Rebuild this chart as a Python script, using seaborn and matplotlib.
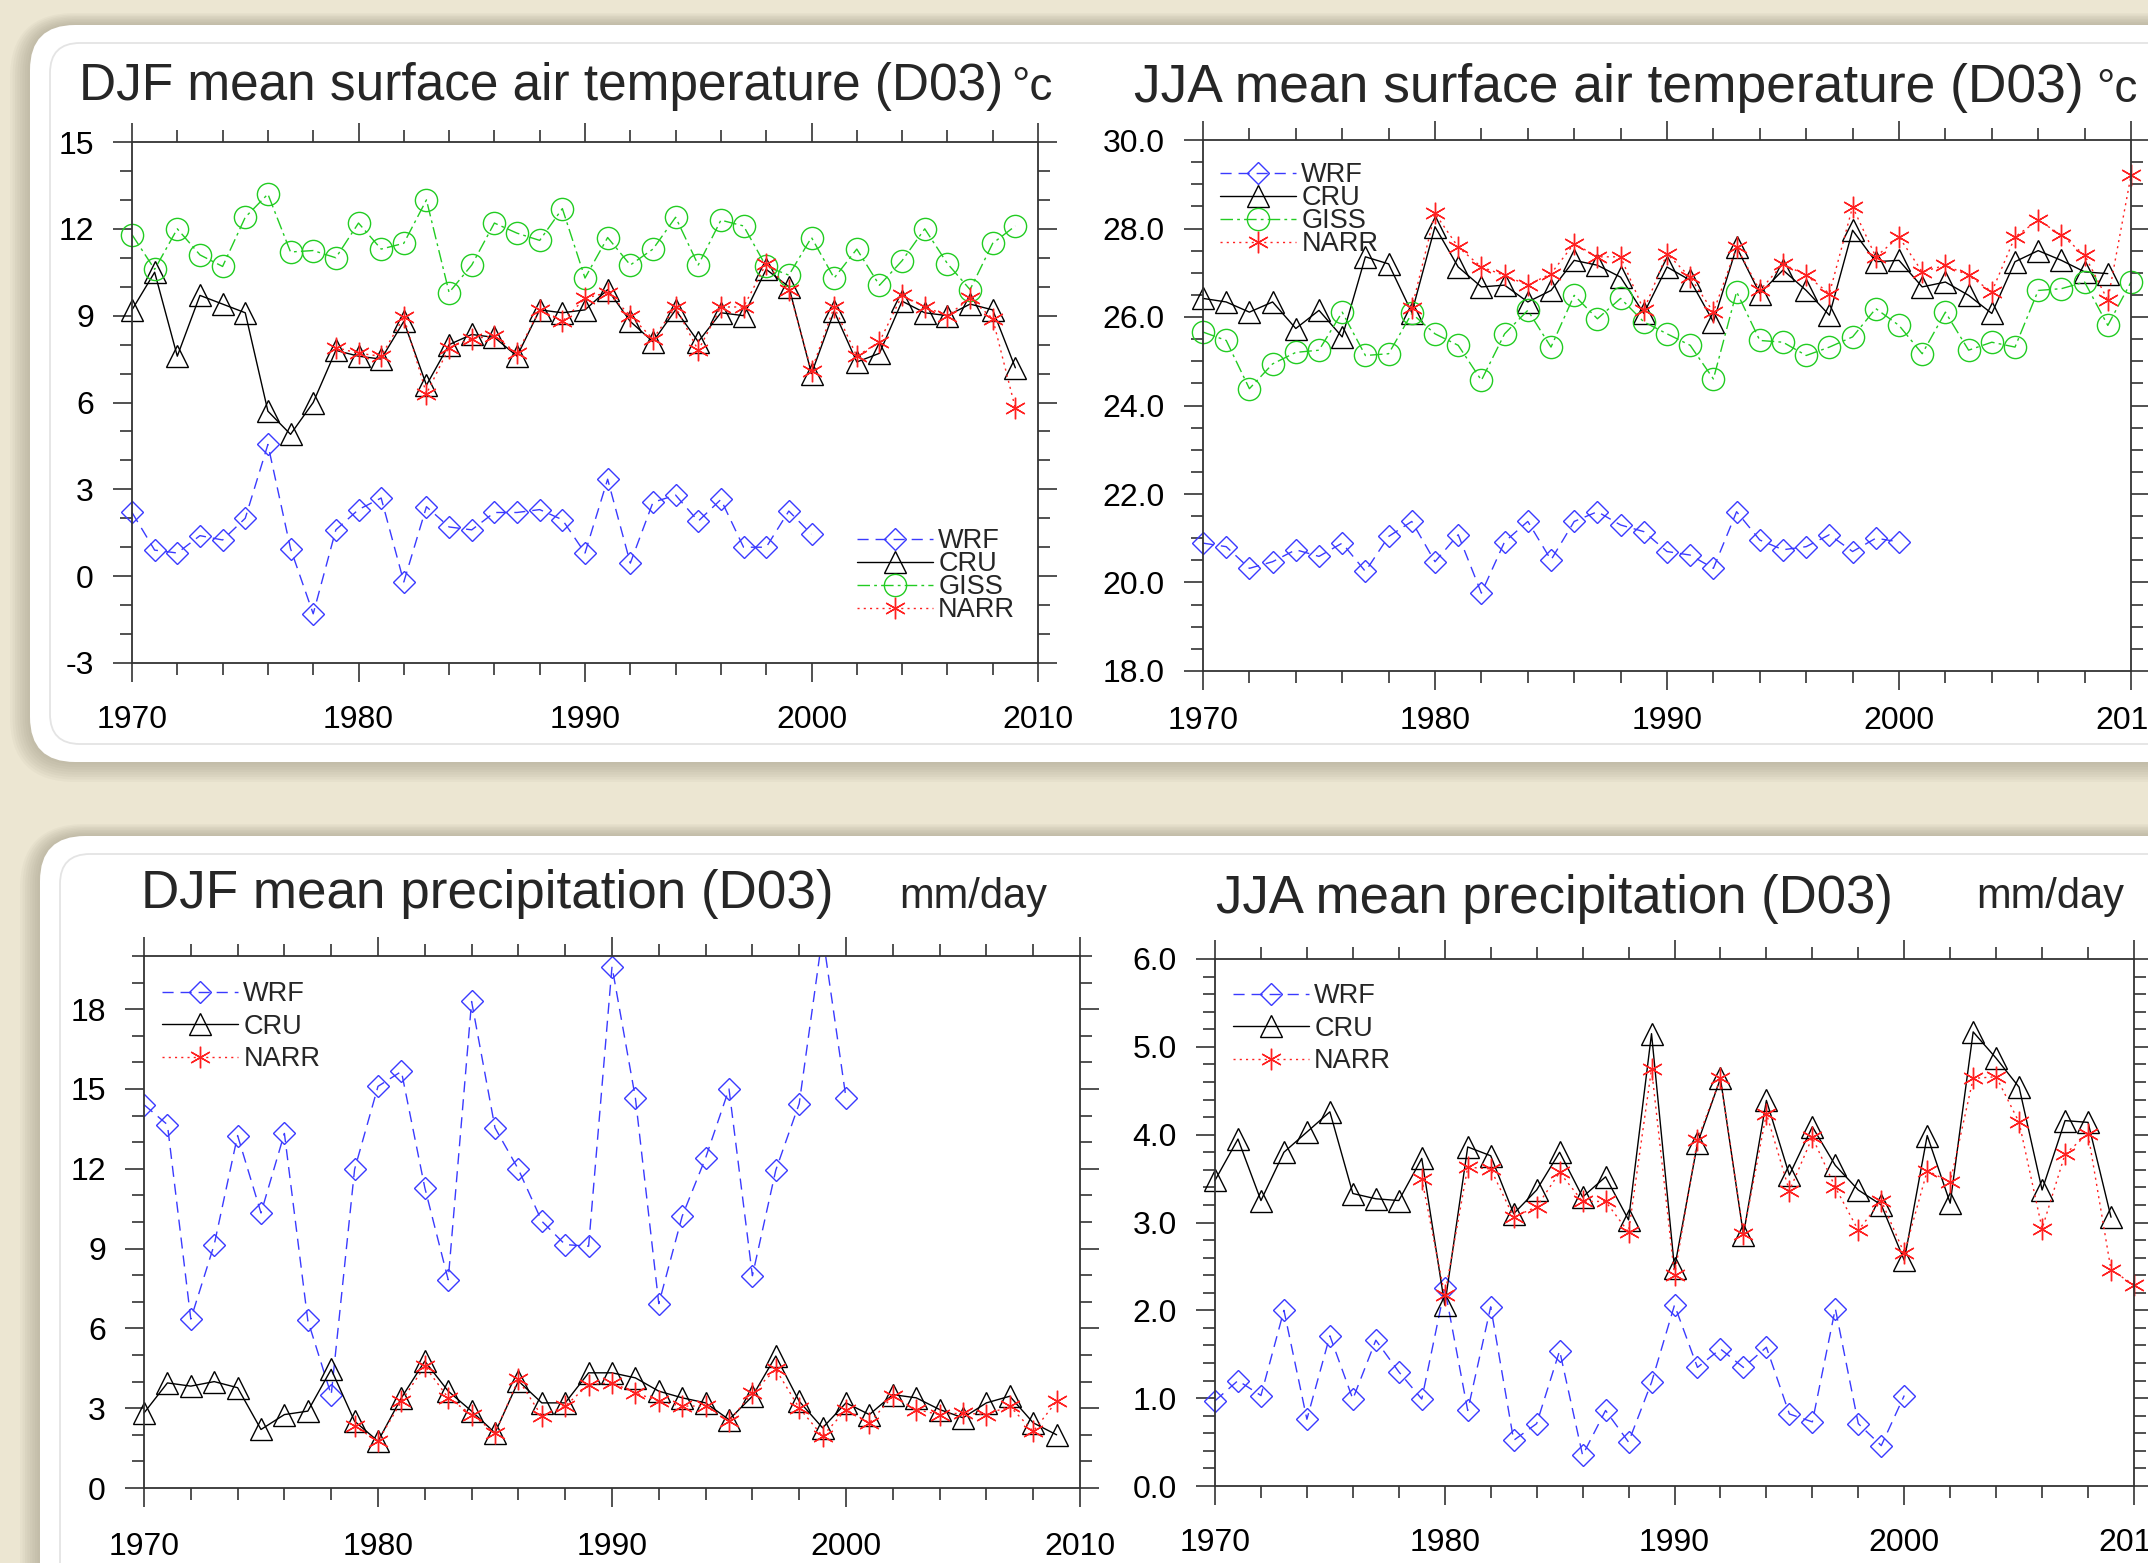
import numpy as np
import seaborn as sns
import matplotlib.pyplot as plt
from matplotlib.patches import FancyBboxPatch
from matplotlib.ticker import MultipleLocator, FormatStrFormatter

sns.set_theme(style='white')
plt.rcParams['font.family'] = ['Liberation Sans', 'DejaVu Sans']
plt.rcParams['axes.unicode_minus'] = False

# ---- data ----
# DJF mean surface air temperature
djf_t_wrf = [2.2, 0.9, 0.8, 1.4, 1.25, 2.0, 4.55, 0.95, -1.3, 1.6,
             2.3, 2.7, -0.2, 2.4, 1.7, 1.6, 2.2, 2.2, 2.3, 1.95,
             0.8, 3.35, 0.45, 2.55, 2.8, 1.9, 2.65, 1.0, 1.0, 2.25,
             1.45]
djf_t_cru = [9.2, 10.5, 7.6, 9.7, 9.4, 9.1, 5.7, 4.9, 6.0, 7.8,
             7.6, 7.5, 8.8, 6.6, 8.0, 8.35, 8.25, 7.6, 9.2, 9.1,
             9.2, 9.9, 8.8, 8.1, 9.2, 8.1, 9.1, 9.0, 10.6, 10.0,
             7.0, 9.15, 7.4, 7.7, 9.5, 9.1, 9.0, 9.4, 9.2, 7.2]
djf_t_giss = [11.8, 10.6, 12.0, 11.1, 10.7, 12.4, 13.2, 11.2, 11.25, 11.0,
              12.2, 11.3, 11.5, 13.0, 9.8, 10.75, 12.2, 11.85, 11.6, 12.7,
              10.3, 11.7, 10.75, 11.3, 12.4, 10.75, 12.3, 12.1, 10.7, 10.4,
              11.7, 10.3, 11.3, 10.05, 10.9, 12.0, 10.8, 9.9, 11.5, 12.1]
djf_t_narr = [7.9,
              7.7, 7.6, 8.95, 6.3, 7.9, 8.2, 8.3, 7.7, 9.2, 8.8,
              9.6, 9.8, 9.0, 8.2, 9.3, 7.8, 9.3, 9.3, 10.8, 9.9,
              7.1, 9.3, 7.6, 8.1, 9.7, 9.3, 9.0, 9.6, 8.9, 5.8]

# JJA mean surface air temperature
jja_t_wrf = [20.89, 20.81, 20.32, 20.47, 20.74, 20.59, 20.89, 20.25, 21.04, 21.38,
             20.47, 21.08, 19.76, 20.92, 21.38, 20.51, 21.38, 21.6, 21.3, 21.15,
             20.7, 20.62, 20.32, 21.6, 20.96, 20.74, 20.81, 21.08, 20.7, 21.0,
             20.92]
jja_t_cru = [26.42, 26.34, 26.11, 26.34, 25.74, 26.15, 25.55, 27.36, 27.2, 26.1,
             28.04, 27.13, 26.68, 26.72, 26.34, 26.6, 27.28, 27.17, 26.9, 26.08,
             27.13, 26.83, 25.89, 27.58, 26.53, 27.06, 26.6, 26.04, 27.96, 27.25,
             27.28, 26.68, 26.79, 26.49, 26.08, 27.25, 27.5, 27.28, 27.02, 26.98]
jja_t_giss = [25.66, 25.47, 24.38, 24.94, 25.2, 25.25, 26.11, 25.13, 25.17, 26.08,
              25.62, 25.36, 24.57, 25.62, 26.15, 25.32, 26.49, 25.96, 26.42, 25.89,
              25.62, 25.36, 24.6, 26.57, 25.47, 25.43, 25.13, 25.32, 25.55, 26.19,
              25.81, 25.17, 26.11, 25.25, 25.43, 25.32, 26.6, 26.64, 26.79, 25.81,
              26.79]
jja_t_narr = [26.2,
              28.34, 27.58, 27.13, 26.94, 26.72, 26.98, 27.66, 27.36, 27.36, 26.15,
              27.43, 26.9, 26.11, 27.58, 26.6, 27.2, 26.94, 26.53, 28.49, 27.36,
              27.81, 27.02, 27.17, 26.94, 26.57, 27.81, 28.19, 27.85, 27.4, 26.38,
              29.2]

# DJF mean precipitation
djf_p_wrf = [14.41, 13.66, 6.35, 9.15, 13.25, 10.34, 13.33, 6.3, 3.5, 11.98,
             15.1, 15.66, 11.29, 7.83, 18.29, 13.54, 11.98, 10.03, 9.15, 9.09,
             19.6, 14.66, 6.93, 10.22, 12.41, 15.0, 7.98, 11.95, 14.45, 20.8,
             14.66]
djf_p_cru = [2.82, 3.95, 3.83, 4.0, 3.77, 2.2, 2.76, 2.89, 4.46, 2.51,
             1.76, 3.39, 4.77, 3.64, 2.89, 2.07, 4.02, 3.2, 3.2, 4.33,
             4.33, 4.14, 3.64, 3.39, 3.2, 2.57, 3.45, 4.96, 3.26, 2.26,
             3.2, 2.76, 3.51, 3.39, 2.95, 2.64, 3.2, 3.45, 2.45, 2.0]
djf_p_narr = [2.32,
              1.76, 3.26, 4.58, 3.39, 2.76, 2.07, 4.08, 2.7, 3.08, 3.89,
              3.95, 3.58, 3.26, 3.08, 3.08, 2.51, 3.58, 4.46, 3.01, 1.95,
              2.95, 2.45, 3.45, 2.95, 2.76, 2.82, 2.76, 3.08, 2.13, 3.26]

# JJA mean precipitation
jja_p_wrf = [0.97, 1.2, 1.03, 2.0, 0.76, 1.71, 0.99, 1.66, 1.3, 0.99,
             2.25, 0.86, 2.04, 0.52, 0.71, 1.54, 0.35, 0.86, 0.5, 1.18,
             2.06, 1.35, 1.56, 1.35, 1.58, 0.82, 0.73, 2.02, 0.71, 0.46,
             1.03]
jja_p_cru = [3.48, 3.95, 3.25, 3.8, 4.03, 4.26, 3.33, 3.27, 3.25, 3.73,
             2.06, 3.86, 3.76, 3.1, 3.37, 3.8, 3.29, 3.52, 3.03, 5.15,
             2.48, 3.9, 4.64, 2.86, 4.39, 3.54, 4.09, 3.65, 3.37, 3.2,
             2.57, 3.99, 3.22, 5.17, 4.87, 4.54, 3.37, 4.16, 4.14, 3.06]
jja_p_narr = [3.5,
              2.17, 3.63, 3.61, 3.06, 3.18, 3.57, 3.24, 3.24, 2.89, 4.75,
              2.4, 3.94, 4.64, 2.87, 4.24, 3.36, 3.97, 3.4, 2.91, 3.25,
              2.65, 3.59, 3.46, 4.64, 4.66, 4.14, 2.93, 3.78, 4.01, 2.46,
              2.29]

# first year of each source
start_year = {'WRF': 1970, 'CRU': 1970, 'GISS': 1970, 'NARR': 1979}

STYLE = {
    'WRF': dict(color='#3a3aff', linestyle=(0, (8, 5)), marker='D', markersize=11),
    'CRU': dict(color='black', linestyle='-', marker='^', markersize=15.5),
    'GISS': dict(color='#22cc22', linestyle=(0, (9, 3, 2, 3)), marker='o', markersize=16),
    'NARR': dict(color='#ff2020', linestyle=(0, (1.5, 3)), marker=(6, 2, 0), markersize=15.5),
}

W, H = 2148, 1563
fig = plt.figure(figsize=(W / 100, H / 100), dpi=100)
fig.patch.set_facecolor('#ece6d2')

# background layer in pixel coordinates (cards, titles)
bg = fig.add_axes([0, 0, 1, 1])
bg.set_xlim(0, W)
bg.set_ylim(H, 0)
bg.axis('off')


def card(x0, y0, x1, y1):
    for i in range(8, 0, -1):
        e = i * 2.5
        bg.add_patch(FancyBboxPatch((x0 - e, y0 - e * 0.6), x1 - x0 + 2 * e, y1 - y0 + 1.6 * e,
                                    boxstyle='round,pad=0,rounding_size=%d' % (45 + e),
                                    fc='#8a8470', ec='none', alpha=0.06))
    bg.add_patch(FancyBboxPatch((x0, y0), x1 - x0, y1 - y0,
                                boxstyle='round,pad=0,rounding_size=45',
                                fc='white', ec='none'))
    bg.add_patch(FancyBboxPatch((x0 + 20, y0 + 18), x1 - x0 - 40, y1 - y0 - 36,
                                boxstyle='round,pad=0,rounding_size=30',
                                fc='none', ec='#e4e4e4', lw=1.3))


card(30, 25, W + 80, 762)
card(40, 836, W + 80, H + 80)


def px_rect(l, t, r, b):
    return [l / W, 1 - b / H, (r - l) / W, (b - t) / H]


def panel(rect, series, ylim, major, minor, fmt, xpad, clip_wrf=False):
    ax = fig.add_axes(px_rect(*rect))
    ax.set_facecolor('none')
    for name, vals in series:
        yrs = np.arange(start_year[name], start_year[name] + len(vals))
        st = STYLE[name]
        sns.lineplot(x=yrs, y=vals, ax=ax, color=st['color'], linestyle=st['linestyle'],
                     lw=1.0, marker=st['marker'], markersize=st['markersize'],
                     markerfacecolor='none', markeredgecolor=st['color'],
                     markeredgewidth=1.0, label=name,
                     clip_on=(clip_wrf and name == 'WRF'))
    ax.set_xlim(1970, 2010)
    ax.set_ylim(*ylim)
    ax.xaxis.set_major_locator(MultipleLocator(10))
    ax.xaxis.set_minor_locator(MultipleLocator(2))
    ax.yaxis.set_major_locator(MultipleLocator(major))
    ax.yaxis.set_minor_locator(MultipleLocator(minor))
    ax.yaxis.set_major_formatter(FormatStrFormatter(fmt))
    ax.tick_params(which='both', direction='out', top=True, right=True,
                   bottom=True, left=True, color='#333333', width=1.2,
                   labelsize=23, labelcolor='black')
    ax.tick_params(which='major', length=13.5)
    ax.tick_params(which='minor', length=8.5)
    ax.tick_params(axis='x', pad=xpad)
    ax.tick_params(axis='y', pad=14)
    ax.set_xlabel('')
    ax.set_ylabel('')
    for s in ax.spines.values():
        s.set_color('#333333')
        s.set_linewidth(1.3)
    return ax


def put_legend(ax, left, top, spacing):
    ax.legend(loc='upper left', bbox_to_anchor=(left / W, 1 - top / H),
              bbox_transform=fig.transFigure, frameon=False, fontsize=19.5,
              handlelength=2.8, handletextpad=0.2, labelspacing=spacing,
              borderpad=0, borderaxespad=0, numpoints=1)


axA = panel((132, 142, 1038, 663),
            [('WRF', djf_t_wrf), ('CRU', djf_t_cru), ('GISS', djf_t_giss), ('NARR', djf_t_narr)],
            (-3, 15), 3, 1, '%d', 17)
put_legend(axA, 857, 528, -0.11)

axB = panel((1203, 140, 2131, 671),
            [('WRF', jja_t_wrf), ('CRU', jja_t_cru), ('GISS', jja_t_giss), ('NARR', jja_t_narr)],
            (18, 30), 2, 0.5, '%.1f', 12)
put_legend(axB, 1220, 162, -0.11)

axC = panel((144, 956, 1080, 1488),
            [('WRF', djf_p_wrf), ('CRU', djf_p_cru), ('NARR', djf_p_narr)],
            (0, 20), 3, 1, '%d', 18, clip_wrf=True)
put_legend(axC, 162, 981, 0.24)

axD = panel((1215, 959, 2134, 1486),
            [('WRF', jja_p_wrf), ('CRU', jja_p_cru), ('NARR', jja_p_narr)],
            (0, 6), 1, 0.2, '%.1f', 17)
put_legend(axD, 1233, 983, 0.24)

# titles
bg.text(79, 100, 'DJF mean surface air temperature (D03)', fontsize=37, va='baseline')
bg.text(1011, 100, '°c', fontsize=33, va='baseline')
bg.text(1134, 102, 'JJA mean surface air temperature (D03)', fontsize=38.4, va='baseline')
bg.text(2096, 102, '°c', fontsize=33, va='baseline')
bg.text(141, 908, 'DJF mean precipitation (D03)', fontsize=38.2, va='baseline')
bg.text(899, 908, 'mm/day', fontsize=30, va='baseline')
bg.text(1216, 913, 'JJA mean precipitation (D03)', fontsize=38, va='baseline')
bg.text(1976, 908, 'mm/day', fontsize=30, va='baseline')

fig.savefig('out.png', dpi=100, facecolor=fig.get_facecolor())
